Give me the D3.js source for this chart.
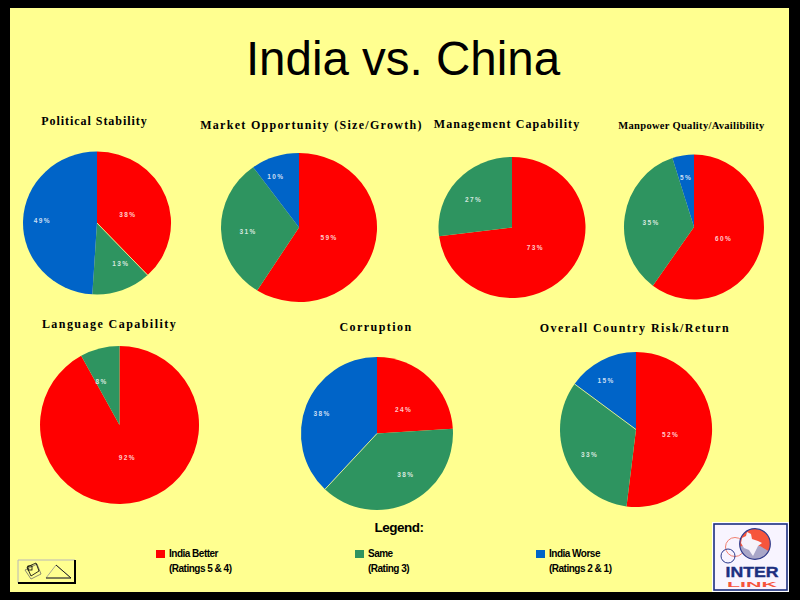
<!DOCTYPE html>
<html>
<head>
<meta charset="utf-8">
<script src="https://cdn.jsdelivr.net/npm/d3@7"></script>
<style>
  html, body { margin: 0; padding: 0; background: #000; }
  svg { display: block; }
</style>
</head>
<body>
<div id="chart"></div>
<script>
// Loading data
const titles = ['Political Stability', 'Market Opportunity (Size/Growth)', 'Management Capability',
  'Manpower Quality/Availibility', 'Language Capability', 'Corruption', 'Overall Country Risk/Return']
const indiaBetter = [38, 59, 73, 60, 92, 24, 52]
const same = [13, 31, 27, 35, 8, 38, 33]
const indiaWorse = [49, 10, 0, 5, 0, 38, 15]
const legendNames = ['India Better', 'Same', 'India Worse']
const legendNotes = ['(Ratings 5 & 4)', '(Rating 3)', '(Ratings 2 & 1)']
const colors = ['#ff0000', '#2e9460', '#0064c8']
const background = '#ffff90'

// set Dimension
const dimensions = { width: 800, height: 600, frame: 10 }

// pie layout: centre, radii, title position and size, label nudges per slice, slice with a thin gap after it
const layout = [
  { cx: 97, cy: 223, rx: 74, ry: 71.5, tx: 94.5, ty: 125, fs: 12, ls: 0.95, nudge: [[-7, 6], [10, 4], [-14, -1]], gap: 0 },
  { cx: 299, cy: 227.5, rx: 78, ry: 74.5, tx: 311.5, ty: 129, fs: 12, ls: 1.3, nudge: [[-11, -1], [-8, 3], [-10, -12]] },
  { cx: 512, cy: 227.5, rx: 73.5, ry: 70.5, tx: 507, ty: 128, fs: 12, ls: 1.05, nudge: [[-7, -5], [-8, -2]] },
  { cx: 694, cy: 227, rx: 70, ry: 72.5, tx: 691.5, ty: 129, fs: 10.5, ls: 0.3, nudge: [[-7, 0], [-5, 2], [-2, -10]] },
  { cx: 119.5, cy: 425, rx: 79.5, ry: 79, tx: 109.5, ty: 328, fs: 12, ls: 1.45, nudge: [[-3, -9], [-7, -1]] },
  { cx: 377, cy: 433.5, rx: 76, ry: 76.5, tx: 376, ty: 331, fs: 12, ls: 1.45, nudge: [[-2, 7], [11, 3], [-16, -4]], gap: 1 },
  { cx: 636, cy: 429.5, rx: 76, ry: 77.5, tx: 635, ty: 332, fs: 12, ls: 1.45, nudge: [[-7, 3], [-8, 9], [-11, -11]], gap: 1 }
]
const legendLeft = [156, 355, 536]

// Drawing area
const svg = d3.select('#chart')
  .append('svg')
  .attr('width', dimensions.width)
  .attr('height', dimensions.height)

svg.append('rect')
  .attr('width', dimensions.width)
  .attr('height', dimensions.height)
  .attr('fill', '#000')

svg.append('rect')
  .attr('x', dimensions.frame)
  .attr('y', 8)
  .attr('width', dimensions.width - dimensions.frame * 2 - 1)
  .attr('height', 584)
  .attr('fill', background)

svg.append('text')
  .text('India vs. China')
  .attr('x', 403)
  .attr('y', 75)
  .attr('text-anchor', 'middle')
  .style('font-family', 'Liberation Sans')
  .style('font-size', '47.5px')

// Scale
const pie = d3.pie().sort(null)
const arc = d3.arc().innerRadius(0).outerRadius(1)

// Chart drawing
layout.forEach((p, i) => {
  const values = [indiaBetter[i], same[i], indiaWorse[i]]
  const slices = pie(values)
  const g = svg.append('g').attr('transform', `translate(${p.cx}, ${p.cy})`)

  g.selectAll('path')
    .data(slices)
    .join('path')
    .attr('d', arc)
    .attr('transform', `scale(${p.rx}, ${p.ry})`)
    .attr('fill', (d, j) => colors[j])

  if (p.gap !== undefined) {
    const end = slices[p.gap].endAngle
    g.append('line')
      .attr('x2', Math.sin(end) * p.rx)
      .attr('y2', -Math.cos(end) * p.ry)
      .attr('stroke', background)
      .attr('stroke-width', 0.8)
  }

  g.selectAll('text')
    .data(slices.filter(d => d.value > 0))
    .join('text')
    .text(d => d.value + '%')
    .attr('x', d => arc.centroid(d)[0] * p.rx * 1.1 + p.nudge[d.index][0])
    .attr('y', d => arc.centroid(d)[1] * p.ry * 1.1 + 2 + p.nudge[d.index][1])
    .attr('text-anchor', 'middle')
    .attr('fill', '#fff')
    .attr('fill-opacity', 0.8)
    .style('font-family', 'Liberation Sans')
    .style('font-weight', 'bold')
    .style('font-size', '6.5px')
    .style('letter-spacing', '1.4px')

  svg.append('text')
    .text(titles[i])
    .attr('x', p.tx)
    .attr('y', p.ty)
    .attr('text-anchor', 'middle')
    .style('font-family', 'Liberation Serif')
    .style('font-weight', 'bold')
    .style('font-size', p.fs + 'px')
    .style('letter-spacing', p.ls + 'px')
})

// Legend
svg.append('text')
  .text('Legend:')
  .attr('x', 399)
  .attr('y', 532)
  .attr('text-anchor', 'middle')
  .style('font-family', 'Liberation Sans')
  .style('font-weight', 'bold')
  .style('font-size', '13.5px')
  .style('letter-spacing', '-0.5px')

legendNames.forEach((name, i) => {
  const x = legendLeft[i]
  svg.append('rect')
    .attr('x', x)
    .attr('y', 550)
    .attr('width', 9)
    .attr('height', 8)
    .attr('fill', colors[i])
  ;[[name, 557], [legendNotes[i], 572]].forEach(([label, y]) => {
    svg.append('text')
      .text(label)
      .attr('x', x + 13)
      .attr('y', y)
      .style('font-family', 'Liberation Sans')
      .style('font-weight', 'bold')
      .style('font-size', '10px')
      .style('letter-spacing', '-0.5px')
  })
})

// Navigation button, bottom left
const button = svg.append('g')
button.append('path').attr('d', 'M18 583V560H75').attr('fill', 'none').attr('stroke', '#b8b8b8')
button.append('path').attr('d', 'M75 560V583H18').attr('fill', 'none').attr('stroke', '#000').attr('stroke-width', 2)
button.append('path').attr('d', 'M46 578L56 565L71 578Z').attr('fill', 'none').attr('stroke', '#a8a890')
button.append('path').attr('d', 'M56 565L71 578H46').attr('fill', 'none').attr('stroke', '#000').attr('stroke-width', 0.8)
button.append('path').attr('d', 'M25 570L37 564L41 574L31 579Z').attr('fill', 'none').attr('stroke', '#8a8a70')
button.append('path').attr('d', 'M27 567L36 563L39 571L31 576Z').attr('fill', 'none').attr('stroke', '#000').attr('stroke-width', 0.8)
button.append('rect').attr('x', 28).attr('y', 566).attr('width', 4).attr('height', 4).attr('fill', 'none').attr('stroke', '#000').attr('stroke-width', 0.8)

// Logo, bottom right
const logo = svg.append('g')
logo.append('rect').attr('x', 712).attr('y', 522).attr('width', 77).attr('height', 70).attr('fill', '#fff')
logo.append('rect').attr('x', 714).attr('y', 524).attr('width', 73).attr('height', 66)
  .attr('fill', '#f8f4ff').attr('stroke', '#1c2f80').attr('stroke-width', 1.6)
logo.append('clipPath').attr('id', 'globe').append('circle').attr('cx', 755).attr('cy', 544).attr('r', 15.3)
logo.append('circle').attr('cx', 735).attr('cy', 547).attr('r', 9.5).attr('fill', 'none').attr('stroke', '#f08070')
logo.append('circle').attr('cx', 728).attr('cy', 556).attr('r', 7).attr('fill', 'none').attr('stroke', '#2c3a8c')
const globe = logo.append('g').attr('clip-path', 'url(#globe)')
globe.append('rect').attr('x', 739).attr('y', 528).attr('width', 32).attr('height', 32).attr('fill', '#f6553c')
globe.append('path').attr('d', 'M739 547L745 545L760 546L772 553V560H739Z').attr('fill', '#a9a6c8')
globe.append('path').attr('d', 'M742 538L746 536L747 532L751 534L752 539L758 541L762 543L758 546L753 556L749 550L744 548L741 543Z').attr('fill', '#f6f2fa')
logo.append('circle').attr('cx', 755).attr('cy', 544).attr('r', 15.3).attr('fill', 'none').attr('stroke', '#2c3a8c').attr('stroke-width', 1.2)
logo.append('text').text('LINK')
  .attr('x', 752).attr('y', 587).attr('text-anchor', 'middle')
  .attr('textLength', 50).attr('lengthAdjust', 'spacingAndGlyphs')
  .attr('fill', '#f6553c')
  .style('font-family', 'Liberation Sans').style('font-weight', 'bold').style('font-size', '7.5px')
logo.append('text').text('INTER')
  .attr('x', 752).attr('y', 577).attr('text-anchor', 'middle')
  .attr('textLength', 53).attr('lengthAdjust', 'spacingAndGlyphs')
  .attr('fill', '#1c2f80').attr('stroke', '#1c2f80').attr('stroke-width', 0.4)
  .style('font-family', 'Liberation Sans').style('font-weight', 'bold').style('font-size', '15.5px')
</script>
</body>
</html>
